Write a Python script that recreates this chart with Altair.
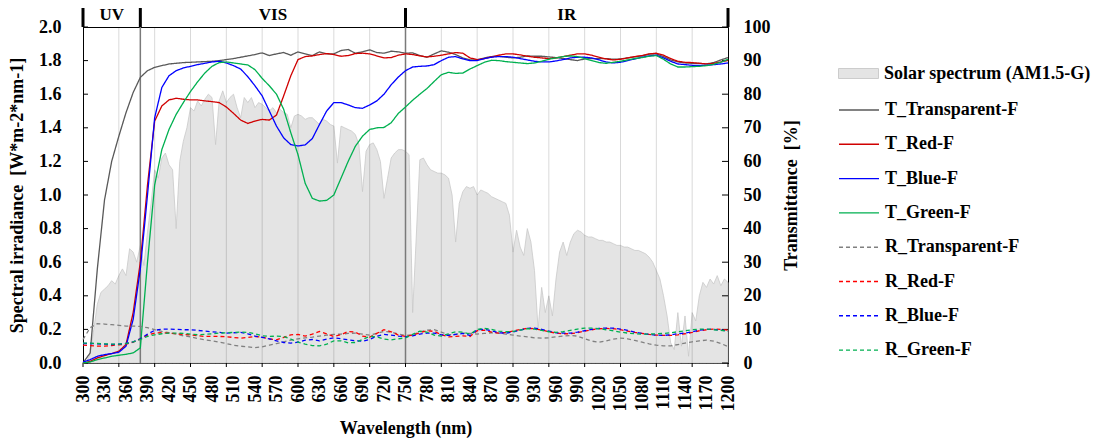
import altair as alt
import pandas as pd

# ---------------- data ----------------
nm10 = list(range(300, 1201, 10))
nm5 = list(range(300, 1201, 5))

solar = [
    0.00, 0.01, 0.05, 0.20, 0.35, 0.42, 0.44, 0.46, 0.49, 0.47,   # 300-345
    0.52, 0.56, 0.52, 0.68, 0.66, 0.60, 0.70, 0.58, 0.78, 0.95,   # 350-395
    1.15, 1.10, 1.22, 1.25, 1.18, 1.15, 0.80, 1.20, 1.32, 1.40,   # 400-445
    1.52, 1.50, 1.56, 1.53, 1.57, 1.60, 1.58, 1.30, 1.56, 1.62,   # 450-495
    1.55, 1.58, 1.60, 1.52, 1.46, 1.58, 1.55, 1.58, 1.52, 1.55,   # 500-545
    1.54, 1.52, 1.50, 1.52, 1.49, 1.51, 1.49, 1.48, 1.40, 1.47,   # 550-595
    1.48, 1.47, 1.45, 1.46, 1.46, 1.44, 1.42, 1.45, 1.44, 1.42,   # 600-645
    1.41, 1.19, 1.41, 1.40, 1.39, 1.38, 1.36, 1.30, 1.02, 1.26,   # 650-695
    1.30, 1.31, 1.27, 1.20, 0.98, 1.10, 1.22, 1.25, 1.27, 1.27,   # 700-745
    1.26, 1.24, 0.30, 0.75, 1.21, 1.22, 1.18, 1.15, 1.14, 1.13,   # 750-795
    1.13, 1.12, 1.10, 1.00, 0.72, 0.95, 1.02, 1.05, 1.04, 1.05,   # 800-845
    1.00, 1.03, 1.02, 1.01, 0.99, 0.98, 0.97, 0.96, 0.95, 0.88,   # 850-895
    0.66, 0.79, 0.69, 0.64, 0.80, 0.72, 0.55, 0.20, 0.45, 0.30,   # 900-945
    0.40, 0.28, 0.50, 0.66, 0.72, 0.64, 0.72, 0.77, 0.79, 0.78,   # 950-995
    0.76, 0.75, 0.75, 0.74, 0.73, 0.73, 0.72, 0.72, 0.71, 0.70,   # 1000-1045
    0.70, 0.69, 0.69, 0.68, 0.67, 0.67, 0.66, 0.65, 0.63, 0.60,   # 1050-1095
    0.55, 0.50, 0.40, 0.28, 0.12, 0.08, 0.30, 0.10, 0.28, 0.04,   # 1100-1145
    0.30, 0.25, 0.40, 0.48, 0.45, 0.50, 0.47, 0.52, 0.46, 0.50,   # 1150-1195
    0.48,                                                         # 1200
]

t_transparent = [
    0, 3, 28, 48.5, 60, 67.5, 74.5, 80.5, 85, 87,
    88, 88.5, 89, 89.2, 89.4, 89.5, 89.6, 89.7, 89.8, 90.0,
    90.3, 90.6, 91.0, 91.4, 91.8, 92.3, 91.5, 92.0, 92.4, 91.6,
    92.6, 92.0, 91.5, 92.6, 92.0, 92.0, 93.0, 93.3, 92.2, 92.6,
    93.2, 92.4, 92.2, 92.8, 92.6, 92.2, 92.3, 91.5, 91.0, 92.0,
    92.9, 92.5, 91.8, 90.8, 90.2, 90.2, 90.8, 91.2, 91.3, 91.0,
    90.8, 91.0, 91.4, 91.3, 91.3, 91.1, 90.9, 90.6, 90.3, 90.0,
    90.5, 90.6, 90.6, 90.6, 90.4, 90.5, 90.8, 91.1, 91.4, 91.9,
    92.0, 91.2, 90.2, 89.6, 89.3, 89.2, 89.2, 89.0, 89.4, 90.2,
    90.9,
]
t_red = [
    0, 0.5, 1.5, 2.2, 2.8, 3.5, 5.5, 15, 30, 53,
    72, 76.5, 78.3, 78.8, 78.5, 78.3, 78.3, 78.0, 77.8, 77.5,
    76.2, 74.3, 72.3, 71.3, 72.0, 72.5, 72.3, 73.8, 79.5, 85.5,
    90.3, 91.2, 91.4, 91.8, 92.1, 91.8, 91.3, 91.5, 92.1, 92.2,
    92.0, 91.4, 90.8, 90.9, 91.6, 92.0, 91.8, 91.4, 91.1, 91.3,
    91.6, 92.0, 92.4, 92.2, 90.8, 90.3, 90.6, 91.1, 91.6, 92.0,
    92.0, 91.7, 91.3, 91.0, 90.8, 90.6, 90.8, 91.2, 91.6, 92.0,
    92.0, 91.6, 91.0, 90.5, 90.2, 90.4, 90.8, 91.2, 91.5, 92.0,
    92.2, 91.6, 90.6, 89.8, 89.5, 89.4, 89.2, 89.0, 89.2, 89.6,
    90.1,
]
t_blue = [
    0.3, 1.0, 2.0, 2.5, 2.8, 3.2, 5.0, 13, 28, 50,
    73, 82, 85.5, 87, 87.8, 88.3, 88.8, 89.2, 89.6, 89.8,
    89.3, 88.5, 87.5, 85.2, 82.5, 79.5, 75, 70.5, 67.0, 65.0,
    64.6, 64.9, 66.8, 71, 75.0, 77.5, 77.5, 76.8, 76.0, 75.8,
    76.8, 78.0, 80.0, 82.8, 85.1, 87.0, 88.1, 88.3, 88.4, 88.8,
    90.0, 91.0, 91.2, 90.5, 90.0, 90.0, 90.6, 91.0, 91.2, 91.2,
    91.0, 90.6, 90.2, 89.8, 89.6, 89.6, 89.9, 90.3, 90.8, 91.0,
    91.0, 90.8, 90.2, 89.6, 89.3, 89.5, 90.0, 90.5, 91.0, 91.4,
    91.6, 90.8, 89.8, 89.0, 88.8, 88.6, 88.6, 88.6, 88.8, 89.0,
    89.3,
]
t_green = [
    0, 0.3, 1.0, 1.5, 2.0, 2.3, 2.6, 3.0, 4.5, 30,
    53, 63.5, 69.5, 74, 77.5, 80.8, 83.7, 86.3, 88.3, 89.4,
    89.6, 89.3, 89.0, 88.7, 87.3, 84.7, 82.5, 80, 75.5, 68.5,
    62.0, 53.5, 49, 48.2, 48.4, 50.0, 55, 60, 64.5, 67.5,
    69.5, 70, 70.1, 71.5, 74.3, 76.2, 78.2, 80.0, 81.7, 83.8,
    85.8, 86.5, 86.2, 86.3, 87.5, 88.5, 89.5, 90.1, 90.0, 89.7,
    89.5, 89.3, 89.1, 89.3, 89.8, 90.4, 90.8, 91.2, 91.4, 91.2,
    90.6, 90.0, 89.4, 89.2, 89.5, 89.8, 90.2, 90.6, 90.9, 91.3,
    91.5, 90.4, 89.0, 88.1, 88.1, 88.2, 88.3, 88.5, 88.9, 89.5,
    90.4,
]
r_transparent = [
    7, 10.5, 11.7, 11.6, 11.4, 11.2, 11.0, 11.0, 10.9, 10.5,
    9.9, 9.4, 9.0, 8.6, 8.1, 7.8, 7.3, 6.9, 6.6, 6.2,
    5.8, 5.3, 5.0, 4.8, 4.6, 4.8, 5.3, 5.8, 6.3, 6.8,
    7.2, 7.5, 7.7, 8.0, 8.3, 8.5, 8.6, 8.8, 8.9, 8.6,
    8.3, 8.8, 9.4, 9.2, 8.6, 8.2, 8.4, 9.2, 9.8, 9.9,
    9.2, 8.4, 8.5, 8.9, 8.8, 8.6, 8.8, 9.0, 8.9, 8.6,
    8.3, 8.0, 7.8, 7.5, 7.4, 7.5, 7.8, 8.0, 8.2, 8.0,
    7.2, 6.5, 6.2, 6.6, 7.1, 7.4, 7.2, 6.7, 6.2, 5.7,
    5.3, 5.1, 5.1, 5.5, 5.9, 6.3, 6.6, 6.8, 6.5, 5.8,
    4.9,
]
r_red = [
    5.3, 5.2, 5.0, 5.0, 5.2, 5.4, 5.6, 6.2, 7.2, 8.3,
    8.9, 9.0, 8.9, 8.7, 8.5, 8.4, 8.1, 7.9, 7.9, 7.9,
    7.8, 7.6, 7.4, 7.6, 7.9, 7.7, 7.2, 6.9, 7.6, 8.4,
    8.5, 8.0, 8.6, 9.4, 8.7, 7.9, 8.4, 9.4, 9.2, 8.0,
    7.7, 8.8, 9.9, 9.3, 8.3, 7.9, 8.3, 9.0, 9.6, 9.4,
    8.4, 7.8, 7.9, 8.1, 7.9, 9.6, 9.8, 9.2, 8.9, 9.1,
    9.5, 10.0, 10.3, 10.2, 9.8, 9.3, 8.9, 8.7, 8.7, 9.0,
    9.5, 9.9, 10.2, 10.3, 10.2, 9.9, 9.5, 9.1, 8.8, 8.5,
    8.3, 8.2, 8.2, 8.4, 8.7, 9.1, 9.6, 9.9, 10.1, 10.0,
    9.8,
]
r_blue = [
    5.8, 5.8, 5.7, 5.6, 5.5, 5.6, 5.8, 6.3, 7.2, 8.6,
    9.7, 10.1, 10.1, 10.0, 9.9, 9.9, 9.7, 9.5, 9.3, 9.1,
    8.9, 9.0, 9.1, 8.7, 8.0, 7.6, 7.2, 6.6, 6.1, 5.9,
    6.2, 6.8, 7.0, 6.6, 7.1, 7.5, 7.2, 6.9, 6.6, 6.5,
    7.0, 8.0, 8.5, 8.3, 8.0, 7.8, 8.1, 8.6, 8.9, 8.9,
    8.4, 8.2, 8.5, 8.8, 8.2, 9.9, 10.0, 9.6, 9.0, 8.9,
    9.2, 9.8, 10.3, 10.4, 10.0, 9.5, 9.0, 8.9, 8.9, 9.2,
    9.6, 10.0, 10.3, 10.4, 10.4, 10.1, 9.7, 9.2, 8.8, 8.5,
    8.3, 8.2, 8.4, 8.7, 8.9, 9.3, 9.8, 10.0, 10.0, 9.8,
    9.5,
]
r_green = [
    5.9, 5.9, 5.8, 5.7, 5.6, 5.6, 5.8, 6.3, 7.0, 7.9,
    8.4, 8.7, 8.9, 8.9, 8.8, 8.6, 8.4, 8.5, 8.7, 8.9,
    9.0, 9.1, 9.2, 9.1, 8.7, 8.1, 7.9, 8.0, 7.9, 7.1,
    6.2, 5.6, 5.2, 5.1, 5.6, 6.6, 6.6, 6.0, 6.1, 7.0,
    7.9, 7.8, 7.1, 6.9, 7.2, 7.5, 8.5, 9.5, 9.2, 8.3,
    8.0, 8.7, 9.3, 9.2, 8.6, 10.0, 10.3, 10.0, 9.5, 9.3,
    9.4, 9.8, 10.2, 10.1, 9.7, 9.3, 9.1, 9.3, 9.7, 10.1,
    10.4, 10.4, 10.2, 9.9, 9.6, 9.2, 8.9, 8.7, 8.6, 8.6,
    8.7, 8.8, 9.0, 9.3, 9.6, 9.9, 10.1, 10.1, 9.9, 9.7,
    9.5,
]

solar_name = "Solar spectrum (AM1.5-G)"
series_names = ["T_Transparent-F", "T_Red-F", "T_Blue-F", "T_Green-F",
                "R_Transparent-F", "R_Red-F", "R_Blue-F", "R_Green-F"]
series_values = [t_transparent, t_red, t_blue, t_green,
                 r_transparent, r_red, r_blue, r_green]
series_colors = ["#595959", "#d00000", "#0000ff", "#00b050",
                 "#808080", "#ff0000", "#0000ff", "#00b050"]
series_dash = [[1, 0], [1, 0], [1, 0], [1, 0], [4, 3], [4, 3], [4, 3], [4, 3]]

x_label_values = list(range(300, 1201, 30))
grid_nm = list(range(350, 1151, 50))
tick_nm = list(range(300, 1201, 50))
left_ticks = [0.0, 0.2, 0.4, 0.6, 0.8, 1.0, 1.2, 1.4, 1.6, 1.8, 2.0]
right_ticks = [0, 10, 20, 30, 40, 50, 60, 70, 80, 90, 100]
region_bounds = [300, 380, 750, 1200]
region_names = ["UV", "VIS", "IR"]

# ---------------- tables ----------------
solar_df = pd.DataFrame({"nm": nm5, "irr": solar, "name": solar_name})
rows = []
for name, vals in zip(series_names, series_values):
    for w, v in zip(nm10, vals):
        rows.append({"nm": w, "val": v, "series": name})
lines_df = pd.DataFrame(rows)
grid_df = pd.DataFrame({"nm": grid_nm})
tick_df = pd.DataFrame({"nm": tick_nm})
bounds_df = pd.DataFrame({"nm": region_bounds})
inner_df = pd.DataFrame({"nm": region_bounds[1:-1]})
region_df = pd.DataFrame({
    "nm": [(a + b) / 2 for a, b in zip(region_bounds[:-1], region_bounds[1:])],
    "label": region_names,
})
lt_df = pd.DataFrame({"v": left_ticks})
rt_df = pd.DataFrame({"v": right_ticks})

# ---------------- layout ----------------
W, H = 645, 336
FONT = "Liberation Serif"
FS = 18
axis_font = dict(labelFont=FONT, labelFontSize=FS, labelFontWeight="bold", labelColor="black",
                 titleFont=FONT, titleFontSize=FS, titleFontWeight="bold", titleColor="black")

xscale = alt.Scale(domain=[300, 1200], nice=False, zero=False)
xaxis = alt.Axis(values=x_label_values, format="d", labelAngle=-90, ticks=False, tickSize=0,
                 grid=False, labelPadding=12, labelOverlap=False, labelFlush=False,
                 title="Wavelength (nm)", titlePadding=8, domainColor="black", **axis_font)


def X():
    return alt.X("nm:Q", scale=xscale, axis=xaxis)


left_scale = alt.Scale(domain=[0, 2], nice=False, zero=True)
right_scale = alt.Scale(domain=[0, 100], nice=False, zero=True)

area = alt.Chart(solar_df).mark_area(stroke="#c9c9c9", strokeWidth=0.8).encode(
    x=X(),
    y=alt.Y("irr:Q", scale=left_scale,
            axis=alt.Axis(values=left_ticks, format=".1f", orient="left", ticks=False,
                          tickSize=0, labelPadding=22, grid=False,
                          title="Spectral irradiance\u00a0\u00a0[W*m-2*nm-1]",
                          titlePadding=12, domainColor="black", **axis_font)),
    fill=alt.Fill("name:N", scale=alt.Scale(domain=[solar_name], range=["#e4e4e4"]),
                  legend=alt.Legend(title=None, orient="none", legendX=755, legendY=26,
                                    symbolType="M-1,-0.25H1V0.25H-1Z", symbolSize=1600,
                                    symbolStrokeColor="#cccccc", symbolStrokeWidth=1,
                                    labelFont=FONT, labelFontSize=FS, labelFontWeight="bold",
                                    labelColor="black", labelOffset=5, labelLimit=320,
                                    padding=0)),
)

grid = alt.Chart(grid_df).mark_rule(color="#000000", opacity=0.15, strokeWidth=1).encode(
    x=X(), y=alt.value(0), y2=alt.value(H))
xticks = alt.Chart(tick_df).mark_rule(color="#000000", strokeWidth=1).encode(
    x=X(), y=alt.value(H), y2=alt.value(H + 4))
inner = alt.Chart(inner_df).mark_rule(color="#7a7a7a", strokeWidth=1.5).encode(
    x=X(), y=alt.value(0), y2=alt.value(H))
markers = alt.Chart(bounds_df).mark_rule(color="#000000", strokeWidth=3).encode(
    x=X(), y=alt.value(-19), y2=alt.value(0))
region_text = alt.Chart(region_df).mark_text(
    font=FONT, fontSize=17, fontWeight="bold", color="black", baseline="middle").encode(
    x=X(), y=alt.value(-12), text="label:N")

lticks = alt.Chart(lt_df).mark_rule(color="black").encode(
    y=alt.Y("v:Q", scale=left_scale, axis=None), x=alt.value(0), x2=alt.value(5))
rticks = alt.Chart(rt_df).mark_rule(color="black").encode(
    y=alt.Y("v:Q", scale=right_scale, axis=None), x=alt.value(W - 6), x2=alt.value(W))

legend_common = dict(title=None, orient="none", legendX=755, legendY=62,
                     symbolType="stroke", symbolSize=1600, symbolStrokeWidth=1.4,
                     labelFont=FONT, labelFontSize=FS, labelFontWeight="bold",
                     labelColor="black", labelOffset=5, labelLimit=320, padding=0,
                     rowPadding=4.3)

lines = alt.Chart(lines_df).mark_line(strokeWidth=1.3).encode(
    x=X(),
    y=alt.Y("val:Q", scale=right_scale,
            axis=alt.Axis(values=right_ticks, orient="right", ticks=False, tickSize=0,
                          labelPadding=15, grid=False,
                          title="Transmittance\u00a0\u00a0[%]", titleAngle=270,
                          titlePadding=30, domainColor="black", **axis_font)),
    color=alt.Color("series:N", scale=alt.Scale(domain=series_names, range=series_colors),
                    legend=alt.Legend(**legend_common)),
    strokeDash=alt.StrokeDash("series:N",
                              scale=alt.Scale(domain=series_names, range=series_dash),
                              legend=alt.Legend(**legend_common)),
    order=alt.Order("nm:Q"),
)

chart = alt.layer(area, grid, inner, xticks, markers, region_text, lticks, rticks, lines).resolve_scale(
    y="independent"
).properties(
    width=W, height=H,
    autosize=alt.AutoSizeParams(type="none"),
    padding={"left": 83, "top": 27, "right": 373, "bottom": 80},
).configure(
    font=FONT, background="white"
).configure_view(stroke="black", strokeWidth=1)

chart.save("out.html", embed_options={"renderer": "svg", "actions": False})
